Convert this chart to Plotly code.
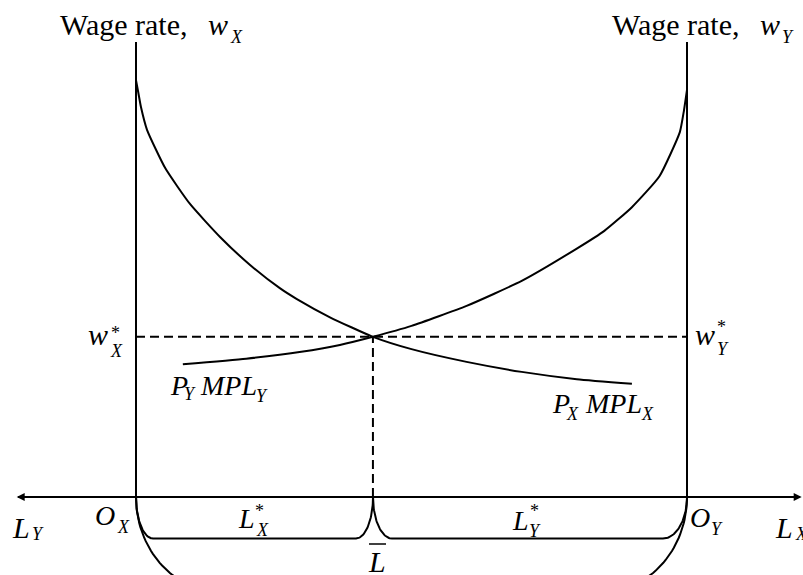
import numpy as np
import plotly.graph_objects as go

# ---------------- data (labor units 0..100, wage units) ----------------
L_total = 100
wage_axis_top = 100
L_x_star = 43
w_star = 35.2

labor_px = [0, 0.4, 0.9, 2, 5.3, 9.8, 15.3, 20.7, 26.1, 29.2, 35.2, 43, 50, 60, 70, 80, 90]
wage_px = [91.6, 89.0, 85.7, 80.7, 72.3, 64.4, 57.1, 51.0, 45.9, 43.5, 39.5, 35.2, 32.5, 29.7, 27.5, 25.9, 24.9]

labor_py = [8.5, 20, 30, 37, 43, 50, 60, 70, 80, 85, 90, 95, 98.7, 99.4, 100]
wage_py = [29.2, 30.4, 31.9, 33.4, 35.2, 37.6, 42.0, 47.5, 54.6, 58.5, 63.7, 70.5, 80.2, 84.6, 89.5]

# ---------------- pixel helpers for layout of decorations ----------------
W, H = 803, 575
X0_PX, KX = 136, 5.51   # pixel of labor 0, px per labor unit
Y0_PX, KY = 497, 4.55   # pixel of wage 0, px per wage unit


def X(px):
    return (px - X0_PX) / KX


def Y(py):
    return (Y0_PX - py) / KY


FONT = "Liberation Serif"
BLACK = "black"

fig = go.Figure()


def line(xs, ys, dash=None, width=2):
    fig.add_trace(go.Scatter(x=xs, y=ys, mode="lines",
                             line=dict(color=BLACK, width=width, dash=dash),
                             hoverinfo="skip", showlegend=False))


# vertical wage axes
line([0, 0], [0, wage_axis_top])
line([L_total, L_total], [0, wage_axis_top])

# curves
fig.add_trace(go.Scatter(x=labor_px, y=wage_px, mode="lines",
                         line=dict(color=BLACK, width=2, shape="spline", smoothing=0.5),
                         hoverinfo="skip", showlegend=False))
fig.add_trace(go.Scatter(x=labor_py, y=wage_py, mode="lines",
                         line=dict(color=BLACK, width=2, shape="spline", smoothing=0.5),
                         hoverinfo="skip", showlegend=False))

# dashed equilibrium lines
line([0, L_total], [w_star, w_star], dash="9px,5px")
line([L_x_star, L_x_star], [0, w_star], dash="9px,5px")


# braces (pixel geometry -> data)
def corner(cx, cy, a, b, sx, t_from, t_to, n=40):
    t = np.linspace(t_from, t_to, n)
    xs = cx + sx * a * np.cos(t)
    ys = cy + b * np.sin(t)
    return [X(v) for v in xs], [Y(v) for v in ys]


def brace(x_left, x_mid, x_right, depth, a_l, a_ml, a_mr, a_r):
    xs, ys = [], []
    cx, cy = corner(x_left + a_l, Y0_PX, a_l, depth, -1, 0, np.pi / 2)
    xs += cx; ys += cy
    cx, cy = corner(x_mid - a_ml, Y0_PX, a_ml, depth, 1, np.pi / 2, 0)
    xs += cx; ys += cy
    line(xs, ys)
    xs, ys = [], []
    cx, cy = corner(x_mid + a_mr, Y0_PX, a_mr, depth, -1, 0, np.pi / 2)
    xs += cx; ys += cy
    cx, cy = corner(x_right - a_r, Y0_PX, a_r, depth, 1, np.pi / 2, 0)
    xs += cx; ys += cy
    line(xs, ys)


brace(136, 373, 687, 41.5, 17, 17, 19, 24)
# large brace (its bottom lies below the visible area)
xs, ys = [], []
cx, cy = corner(136 + 85, Y0_PX, 85, 95, -1, 0, np.pi / 2); xs += cx; ys += cy
cx, cy = corner(687 - 85, Y0_PX, 85, 95, 1, np.pi / 2, 0); xs += cx; ys += cy
line(xs, ys)

# L-bar overline
line([X(369), X(386)], [Y(544), Y(544)], width=1.5)

# horizontal labor axis with arrows
line([X(18), X(800)], [0, 0])
ann = []
for tip in (X(16.7), X(801.7)):
    ann.append(dict(x=tip, y=0, ax=L_total / 2, ay=0, xref="x", yref="y",
                    axref="x", ayref="y", showarrow=True, arrowhead=2,
                    arrowsize=1, arrowwidth=1.6, arrowcolor=BLACK, text="",
                    standoff=0))


def lab(text, px, py_base, size, anchor="left"):
    yc = py_base - 0.3375 * size
    ann.append(dict(x=X(px), y=Y(yc), xref="x", yref="y", text=text,
                    showarrow=False, xanchor=anchor, yanchor="middle",
                    borderpad=0, borderwidth=0,
                    font=dict(family=FONT, size=size, color=BLACK)))


# titles
lab("Wage rate,", 60, 35, 30)
lab("<i>w</i>", 208, 35, 30)
lab("<i>X</i>", 230, 43, 18)
lab("Wage rate,", 612, 35, 30)
lab("<i>w</i>", 760, 35, 30)
lab("<i>Y</i>", 782, 43, 18)

# w* labels
lab("<i>w</i>", 108, 345, 30, anchor="right")
lab("<i>X</i>", 110, 357, 18)
lab("*", 111, 339, 18)
lab("<i>w</i>", 695, 345, 30)
lab("<i>Y</i>", 717, 355, 18)
lab("*", 717, 333, 18)

# curve labels
lab("<i>P</i>", 170, 395, 28)
lab("<i>Y</i>", 184, 400, 18)
lab("<i>MPL</i>", 200, 395, 28)
lab("<i>Y</i>", 256, 402, 18)
lab("<i>P</i>", 552, 413, 28)
lab("<i>X</i>", 566, 420, 18)
lab("<i>MPL</i>", 585, 413, 28)
lab("<i>X</i>", 641, 420, 18)

# horizontal axis labels
lab("<i>L</i>", 12, 538, 30)
lab("<i>Y</i>", 32, 540, 18)
lab("<i>O</i>", 95, 525, 28)
lab("<i>X</i>", 117, 533, 18)
lab("<i>L</i>", 238, 528, 28)
lab("*", 255, 517, 18)
lab("<i>X</i>", 256, 536, 18)
lab("<i>L</i>", 512, 530, 28)
lab("*", 530, 517, 18)
lab("<i>Y</i>", 529, 537, 18)
lab("<i>O</i>", 690, 527, 28)
lab("<i>Y</i>", 711, 535, 18)
lab("<i>L</i>", 775, 538, 30)
lab("<i>X</i>", 795, 540, 18)
lab("<i>L</i>", 368, 572, 30)

fig.update_layout(
    width=W, height=H,
    margin=dict(l=0, r=0, t=0, b=0),
    paper_bgcolor="white", plot_bgcolor="white",
    xaxis=dict(range=[X(0), X(W)], visible=False, fixedrange=True),
    yaxis=dict(range=[Y(H), Y(0)], visible=False, fixedrange=True),
    annotations=ann,
    showlegend=False,
)

fig.write_html("out.html", config={"displayModeBar": False},
               post_script="document.body.style.margin='0px';document.body.style.overflow='hidden';")
